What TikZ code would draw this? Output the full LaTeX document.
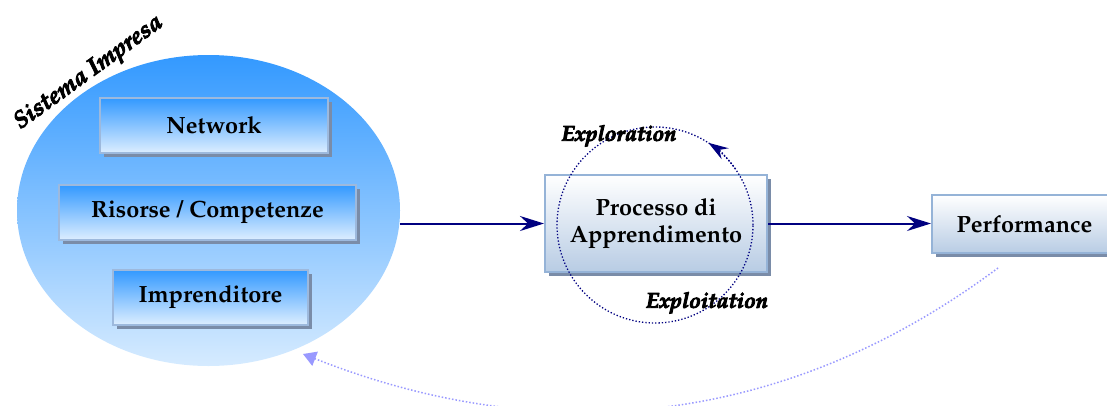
\documentclass[tikz,border=0pt]{standalone}
\usepackage[T1]{fontenc}
\usepackage{mathpazo}
\usetikzlibrary{shapes.geometric,arrows.meta,shadows}

\definecolor{navyline}{HTML}{000080}
\definecolor{orbtop}{HTML}{3399FF}
\definecolor{orbbot}{HTML}{D6EBFF}
\definecolor{bluetop}{HTML}{3399FF}
\definecolor{bluebot}{HTML}{DDEEFF}
\definecolor{bluerim}{HTML}{9DB9DD}
\definecolor{palebot}{HTML}{B8CCE4}
\definecolor{palerim}{HTML}{95B3D7}
\definecolor{shade}{HTML}{7A8CA8}
\definecolor{loopline}{HTML}{9999FF}

% heavy lettering: glyphs filled and outlined
\newcommand\heavyword[1]{\special{pdf:literal direct 2 Tr 0.9 w}#1\special{pdf:literal direct 0 Tr 0.4 w}}

\begin{document}
\begin{tikzpicture}[x=1pt,y=-1pt,
  card/.style={line width=2pt, inner sep=0pt, align=center,
    font=\fontsize{23.5}{27}\selectfont\bfseries,
    drop shadow={shadow xshift=4pt, shadow yshift=-4pt, fill=shade, opacity=1}},
  bluecard/.style={card, draw=bluerim, top color=bluetop, bottom color=bluebot, minimum height=55pt},
  palecard/.style={card, draw=palerim, top color=white, bottom color=palebot},
  flow/.style={draw=navyline, line width=2pt, -{Stealth[length=24pt,width=15pt,inset=8pt]}},
  cycleline/.style={draw=navyline, line width=1.3pt, dotted},
  feedback/.style={draw=loopline, line width=1.5pt, dotted, -{Triangle[length=13pt,width=15pt]}},
  tag/.style={inner sep=0pt, font=\fontsize{21.5}{23}\selectfont\bfseries\itshape}
]
\useasboundingbox (0,0) rectangle (1107,405);

% the firm as a shaded ellipse
\node[ellipse, minimum width=383pt, minimum height=311pt, inner sep=0pt,
      top color=orbtop, bottom color=orbbot] (sys) at (208.5,210.5) {};
\node[tag, font=\fontsize{24}{26}\selectfont\bfseries\itshape, rotate=36] (systitle) at (89,73) {\heavyword{Sistema Impresa}};

% its components
\node[bluecard, minimum width=228pt] (net) at (214,125.5) {Network};
\node[bluecard, minimum width=297pt] (res) at (207.5,212.5) {Risorse / Competenze};
\node[bluecard, minimum width=195pt] (ent) at (210.5,297.5) {Imprenditore};

% learning process and outcome
\node[palecard, minimum width=222pt, minimum height=97pt] (proc) at (656,223.5) {Processo di\\Apprendimento};
\node[palecard, minimum width=185pt, minimum height=58pt] (perf) at (1024.5,224) {Performance};

% exploration / exploitation cycle
\node[cycleline, circle, minimum size=196pt, inner sep=0pt] (cyc) at (655,225) {};
\draw[draw=navyline, line width=1.3pt, dotted, -{Stealth[length=20pt,width=13pt,inset=7pt]}]
  (cyc.center) ++(-35:98) arc[start angle=-35, end angle=-57, radius=98];
\node[tag] (explor) at (619,136) {\heavyword{Exploration}};
\node[tag] (exploit) at (707,303) {\heavyword{Exploitation}};

% main flow
\draw[flow] (sys.east |- proc.west) -- (proc.west);
\draw[flow] (proc.east) -- (proc.east -| perf.west);

% feedback loop
\coordinate (fbstart) at (998,268);
\coordinate (fbend) at (303,354);
\draw[feedback] (fbstart) .. controls (700,490) and (420,400) .. (fbend);
\end{tikzpicture}
\end{document}
